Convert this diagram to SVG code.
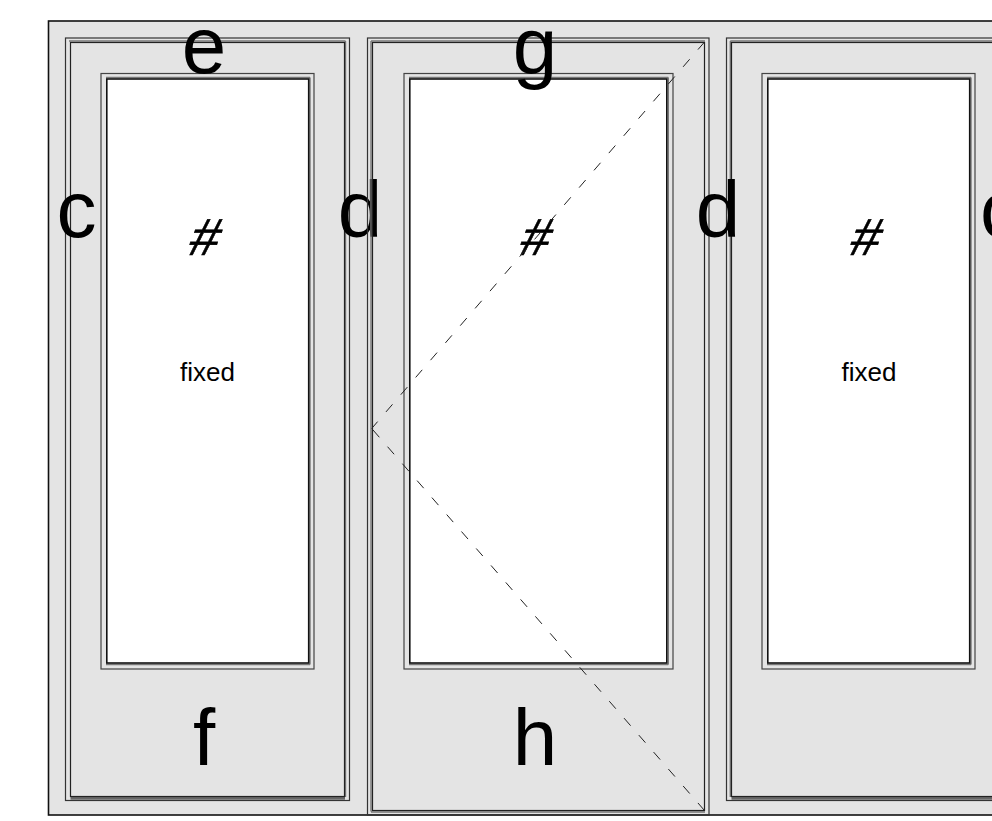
<svg xmlns="http://www.w3.org/2000/svg" width="992" height="821" viewBox="0 0 992 821">
<style>
.bg{fill:#e4e4e4;stroke:#111;stroke-width:1.6}
.fo{fill:none;stroke:#333;stroke-width:1.2}
.fi{fill:none;stroke:#222;stroke-width:1.2}
.wo{fill:none;stroke:#444;stroke-width:1.2}
.wi{fill:#fff;stroke:#111;stroke-width:1.6}
.sh{fill:none;stroke:#777;stroke-width:1.4}
.band{fill:none;stroke:#666;stroke-width:3}
text{font-family:"Liberation Sans",Arial,sans-serif;fill:#000;text-anchor:middle}
.big{font-size:80px}
.hash{font-size:52px;stroke:#000;stroke-width:.7}
.small{font-size:26px}
.dash{fill:none;stroke:#222;stroke-width:1}
</style>
<rect id="frame" class="bg" x="48.5" y="21" width="960" height="794"/>
<g id="panel-left">
<rect class="fo" x="65.5" y="38" width="284" height="762.5"/>
<path class="sh" d="M69 41H345.5M345.5 41V797"/>
<path class="band" d="M70.5 798.3H345"/>
<rect class="fi" x="70.5" y="42.5" width="274" height="754"/>
<rect class="wo" x="101" y="73.5" width="213" height="595.5"/>
<path class="sh" d="M106 77.5H310M106 664.5H310M310 77.5V664.5"/>
<rect class="wi" x="106.8" y="79" width="201.9" height="584"/>
<text class="big" x="204" y="72.5">e</text>
<text class="big" x="76.5" y="237">c</text>
<text class="big" x="360" y="237">d</text>
<text class="hash" transform="translate(201,255) skewX(-16)">#</text>
<text class="small" x="207.5" y="381">fixed</text>
<text class="big" x="204" y="765">f</text>
</g>
<g id="panel-middle">
<rect class="fo" x="367.5" y="38" width="341.5" height="777"/>
<path class="sh" d="M371 41H705M371 41V811.5M371 812H705"/>
<rect class="fi" x="372.5" y="42.5" width="332" height="768"/>
<rect class="wo" x="404" y="73.5" width="269" height="595.5"/>
<path class="sh" d="M409 77.5H668.3M409 664.5H668.3M668.3 77.5V664.5"/>
<rect class="wi" x="409.8" y="79" width="257" height="584"/>
<text class="big" x="535" y="72.5">g</text>
<text class="hash" transform="translate(532,255) skewX(-16)">#</text>
<text class="big" x="535" y="765">h</text>
</g>
<g id="panel-right">
<rect class="fo" x="726.5" y="38" width="290" height="762.5"/>
<path class="sh" d="M730.3 41H1012M730.3 41V797"/>
<path class="band" d="M731.5 798.3H992"/>
<rect class="fi" x="731.5" y="42.5" width="280" height="754"/>
<rect class="wo" x="762" y="73.5" width="213" height="595.5"/>
<path class="sh" d="M767 77.5H971M767 664.5H971M971 77.5V664.5"/>
<rect class="wi" x="767.8" y="79" width="201.9" height="584"/>
<text class="big" x="718" y="237">d</text>
<text class="big" x="1000" y="237">c</text>
<text class="hash" transform="translate(862,255) skewX(-16)">#</text>
<text class="small" x="869" y="381">fixed</text>
</g>
<g id="connectors">
<path class="dash" stroke-dasharray="10 12.77" d="M704.5 42L371.7 428.5"/>
<path class="dash" stroke-dasharray="10 12.5" d="M704.5 810.5L371.7 428.5"/>
</g>
</svg>
